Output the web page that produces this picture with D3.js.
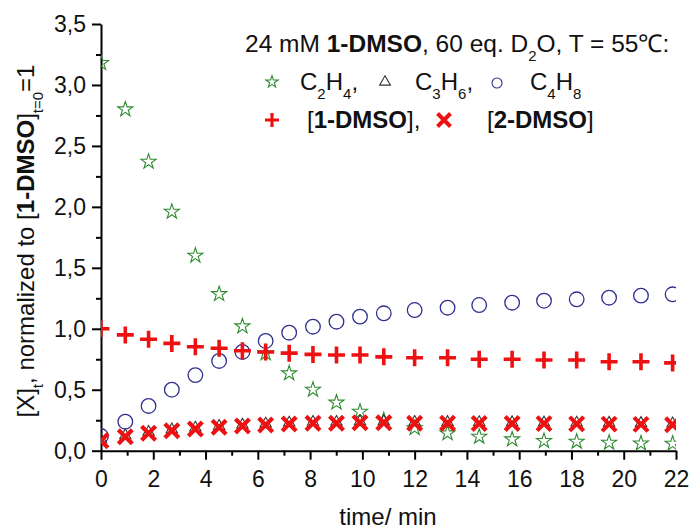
<!DOCTYPE html>
<html><head><meta charset="utf-8">
<script src="https://cdn.jsdelivr.net/npm/d3@7"></script>
<style>
html,body{margin:0;padding:0;background:#fff;}
svg{display:block;font-family:"Liberation Sans",Arial,sans-serif;}
</style>
</head><body>
<svg id="chart" width="691" height="529"></svg>
<script>
// ---- data ----
const time  = [0, 0.93, 1.82, 2.71, 3.61, 4.52, 5.41, 6.3, 7.2, 8.11, 9.01, 9.91, 10.82, 12.0, 13.26, 14.47, 15.73, 16.95, 18.2, 19.44, 20.66, 21.87];
const C2H4  = [3.18, 2.80, 2.37, 1.96, 1.60, 1.285, 1.02, 0.80, 0.635, 0.50, 0.395, 0.32, 0.25, 0.185, 0.143, 0.115, 0.093, 0.08, 0.074, 0.066, 0.06, 0.058];
const C3H6  = [0.09, 0.125, 0.153, 0.174, 0.188, 0.202, 0.213, 0.221, 0.229, 0.235, 0.235, 0.24, 0.24, 0.235, 0.234, 0.233, 0.232, 0.23, 0.229, 0.228, 0.226, 0.223];
const C4H8  = [0.12, 0.238, 0.367, 0.50, 0.62, 0.736, 0.81, 0.90, 0.968, 1.017, 1.058, 1.10, 1.127, 1.154, 1.173, 1.195, 1.214, 1.23, 1.242, 1.255, 1.272, 1.283];
const DMSO1 = [1.0, 0.95, 0.914, 0.88, 0.853, 0.84, 0.82, 0.81, 0.80, 0.79, 0.785, 0.785, 0.77, 0.763, 0.763, 0.75, 0.75, 0.744, 0.744, 0.73, 0.73, 0.72];
const DMSO2 = [0.082, 0.115, 0.143, 0.164, 0.178, 0.192, 0.203, 0.211, 0.219, 0.225, 0.225, 0.23, 0.23, 0.225, 0.225, 0.224, 0.223, 0.222, 0.22, 0.218, 0.216, 0.213];

const xTicks = [0, 2, 4, 6, 8, 10, 12, 14, 16, 18, 20, 22];
const xTickLabels = ["0","2","4","6","8","10","12","14","16","18","20","22"];
const yTicks = [0, 0.5, 1.0, 1.5, 2.0, 2.5, 3.0, 3.5];
const yTickLabels = ["0,0","0,5","1,0","1,5","2,0","2,5","3,0","3,5"];

// ---- layout ----
const X0 = 101, X1 = 676, Y0 = 450.7, Y1 = 24;
const FONT = 23, LFONT = 24;
const RED = "#ee1111", BLUE = "#303090", GREEN = "#2e8b2e";

const svg = d3.select("#chart");
const x = d3.scaleLinear().domain([0, 22]).range([X0, X1]);
const y = d3.scaleLinear().domain([0, 3.5]).range([Y0, Y1]);

svg.append("defs").append("clipPath").attr("id","plotclip")
  .append("rect").attr("x", X0).attr("y", Y1 - 10).attr("width", X1 - X0).attr("height", Y0 - Y1 + 10);

// minor ticks
const xMinor = d3.range(0, 23, 1).filter(v => v % 2 !== 0);
const yMinor = d3.range(0.25, 3.5, 0.5);
svg.append("g").attr("transform", `translate(0,${Y0})`)
  .call(d3.axisBottom(x).tickValues(xMinor).tickSize(5).tickFormat(""))
  .call(g => g.select(".domain").remove())
  .call(g => g.selectAll("line").attr("stroke","#000").attr("stroke-width",2));
svg.append("g").attr("transform", `translate(${X0},0)`)
  .call(d3.axisLeft(y).tickValues(yMinor).tickSize(5).tickFormat(""))
  .call(g => g.select(".domain").remove())
  .call(g => g.selectAll("line").attr("stroke","#000").attr("stroke-width",2));

// major axes
const xAxis = svg.append("g").attr("transform", `translate(0,${Y0})`)
  .call(d3.axisBottom(x).tickValues(xTicks).tickSize(9).tickSizeOuter(0).tickPadding(11)
        .tickFormat((d,i) => xTickLabels[i]));
const yAxis = svg.append("g").attr("transform", `translate(${X0},0)`)
  .call(d3.axisLeft(y).tickValues(yTicks).tickSize(9).tickSizeOuter(0).tickPadding(6)
        .tickFormat((d,i) => yTickLabels[i]));
[xAxis, yAxis].forEach(g => {
  g.select(".domain").attr("stroke","#000").attr("stroke-width",2);
  g.selectAll(".tick line").attr("stroke","#000").attr("stroke-width",2);
  g.selectAll(".tick text").attr("fill","#111").style("font-size", FONT + "px")
    .style("font-family", '"Liberation Sans",Arial,sans-serif');
});

// ---- markers ----
const plot = svg.append("g").attr("clip-path","url(#plotclip)");
const idx = d3.range(time.length);
const starPath = d3.symbol().type(d3.symbolStar).size(70)();
const triPath = d3.symbol().type(d3.symbolTriangle).size(55)();

plot.append("g").selectAll("path").data(idx).join("path")
  .attr("d", starPath)
  .attr("transform", i => `translate(${x(time[i])},${y(C2H4[i])})`)
  .attr("fill","none").attr("stroke", GREEN).attr("stroke-width",1.1);

plot.append("g").selectAll("path").data(idx).join("path")
  .attr("d", triPath)
  .attr("transform", i => `translate(${x(time[i])},${y(C3H6[i])})`)
  .attr("fill","none").attr("stroke","#333").attr("stroke-width",1.1);

plot.append("g").selectAll("circle").data(idx).join("circle")
  .attr("cx", i => x(time[i])).attr("cy", i => y(C4H8[i])).attr("r", 7.3)
  .attr("fill","none").attr("stroke", BLUE).attr("stroke-width",1.3);

const plusD = (s) => `M${-s},0H${s}M0,${-s}V${s}`;
const crossD = (s) => `M${-s},${-s}L${s},${s}M${-s},${s}L${s},${-s}`;

plot.append("g").selectAll("path").data(idx).join("path")
  .attr("d", plusD(8.5))
  .attr("transform", i => `translate(${x(time[i])},${y(DMSO1[i])})`)
  .attr("fill","none").attr("stroke", RED).attr("stroke-width",3.6);

plot.append("g").selectAll("path").data(idx).join("path")
  .attr("d", crossD(7))
  .attr("transform", i => `translate(${x(time[i])},${y(DMSO2[i])})`)
  .attr("fill","none").attr("stroke", RED).attr("stroke-width",4.2);

// ---- rich text helper ----
function richText(g, xPos, yPos, segs, size, attrs) {
  const t = g.append("text").attr("x", xPos).attr("y", yPos)
    .attr("fill","#111").style("font-size", size + "px");
  if (attrs) Object.entries(attrs).forEach(([k,v]) => t.attr(k, v));
  let shifted = 0;
  segs.forEach(s => {
    const ts = t.append("tspan").text(s.t);
    if (s.bold) ts.attr("font-weight","bold");
    if (s.sub) {
      ts.style("font-size","15px").attr("dy", 9 - shifted); shifted = 9;
    } else if (shifted) {
      ts.attr("dy", -shifted); shifted = 0;
    }
  });
  return t;
}

// ---- legend ----
const leg = svg.append("g");
richText(leg, 245, 52, [
  {t:"24 mM "}, {t:"1-DMSO", bold:true}, {t:", 60 eq. D"}, {t:"2", sub:true},
  {t:"O, T = 55℃:"}
], 24.5);
const row2 = 90, row3 = 128;
leg.append("path").attr("d", d3.symbol().type(d3.symbolStar).size(45)())
  .attr("transform", `translate(272,${row2 - 8})`).attr("fill","none").attr("stroke",GREEN).attr("stroke-width",1.1);
richText(leg, 300, row2, [{t:"C"},{t:"2",sub:true},{t:"H"},{t:"4",sub:true},{t:","}], LFONT);
leg.append("path").attr("d", d3.symbol().type(d3.symbolTriangle).size(50)())
  .attr("transform", `translate(385,${row2 - 8})`).attr("fill","none").attr("stroke","#333").attr("stroke-width",1.1);
richText(leg, 415, row2, [{t:"C"},{t:"3",sub:true},{t:"H"},{t:"6",sub:true},{t:","}], LFONT);
leg.append("circle").attr("cx", 497).attr("cy", row2 - 7).attr("r", 5)
  .attr("fill","none").attr("stroke",BLUE).attr("stroke-width",1.1);
richText(leg, 530, row2, [{t:"C"},{t:"4",sub:true},{t:"H"},{t:"8",sub:true}], LFONT);

leg.append("path").attr("d", plusD(7)).attr("transform", `translate(272,${row3 - 8})`)
  .attr("fill","none").attr("stroke",RED).attr("stroke-width",3.2);
richText(leg, 307, row3, [{t:"["},{t:"1-DMSO",bold:true},{t:"],"}], LFONT);
leg.append("path").attr("d", crossD(6.5)).attr("transform", `translate(444,${row3 - 8})`)
  .attr("fill","none").attr("stroke",RED).attr("stroke-width",4);
richText(leg, 487, row3, [{t:"["},{t:"2-DMSO",bold:true},{t:"]"}], LFONT);

// ---- axis titles ----
svg.append("text").attr("x", 388).attr("y", 525).attr("text-anchor","middle")
  .attr("fill","#111").style("font-size", "24px").text("time/ min");

const yl = svg.append("g").attr("transform", "translate(33.5,241) rotate(-90)");
richText(yl, 0, 0, [
  {t:"[X]"},{t:"t",sub:true},{t:", normalized to ["},{t:"1-DMSO",bold:true},{t:"]"},
  {t:"t=0",sub:true},{t:"=1"}
], 24, {"text-anchor":"middle"});
</script>
</body></html>
